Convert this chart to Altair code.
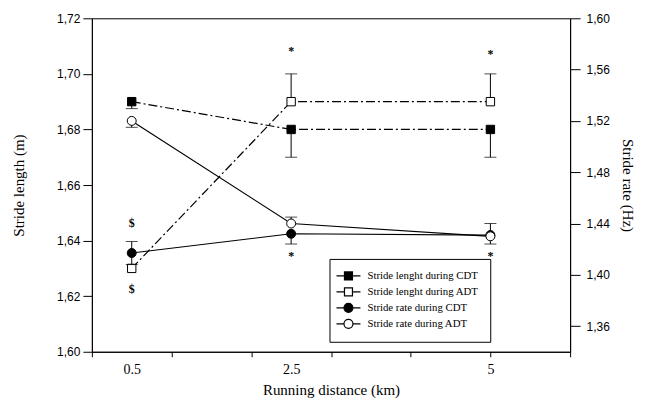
import altair as alt
import pandas as pd

# ---------------- data ----------------
distance = [0.5, 2.5, 5]
x_labels = ["0.5", "2.5", "5"]
x_ticks = [0, 1, 2, 3, 4, 5, 6]
series_names = ["Stride lenght during CDT", "Stride lenght during ADT",
                "Stride rate during CDT", "Stride rate during ADT"]

length_cdt = [1.690, 1.680, 1.680]
length_adt = [1.630, 1.690, 1.690]
rate_cdt = [1.417, 1.432, 1.431]
rate_adt = [1.520, 1.440, 1.430]

length_cdt_lo = [1.6875, 1.670, 1.670]
length_cdt_hi = [1.690, 1.680, 1.680]
length_adt_lo = [1.630, 1.690, 1.690]
length_adt_hi = [1.630, 1.700, 1.700]
rate_cdt_lo = [1.408, 1.424, 1.424]
rate_cdt_hi = [1.426, 1.432, 1.431]
rate_adt_lo = [1.515, 1.440, 1.430]
rate_adt_hi = [1.520, 1.445, 1.440]

annot_x = [2.5, 5, 2.5, 5, 0.5, 0.5]
annot_y = [1.7082, 1.7071, 1.6345, 1.6345, 1.6464, 1.6226]
annot_text = ["*", "*", "*", "*", "$", "$"]

left_ticks = [1.60, 1.62, 1.64, 1.66, 1.68, 1.70, 1.72]
right_ticks = [1.36, 1.40, 1.44, 1.48, 1.52, 1.56, 1.60]

# ---------------- tables ----------------
rows = []
for name, grp, vals, lo, hi in [
    (series_names[0], "length", length_cdt, length_cdt_lo, length_cdt_hi),
    (series_names[1], "length", length_adt, length_adt_lo, length_adt_hi),
    (series_names[2], "rate", rate_cdt, rate_cdt_lo, rate_cdt_hi),
    (series_names[3], "rate", rate_adt, rate_adt_lo, rate_adt_hi),
]:
    for d, v, l, h in zip(distance, vals, lo, hi):
        rows.append({"series": name, "group": grp, "distance": d,
                     "value": v, "lo": l, "hi": h})
df = pd.DataFrame(rows)

caps = []
for r in rows:
    if r["lo"] < r["value"]:
        caps.append({"series": r["series"], "group": r["group"],
                     "distance": r["distance"], "cap": r["lo"]})
    if r["hi"] > r["value"]:
        caps.append({"series": r["series"], "group": r["group"],
                     "distance": r["distance"], "cap": r["hi"]})
caps_df = pd.DataFrame(caps)

annot_df = pd.DataFrame({"distance": annot_x, "value": annot_y, "label": annot_text})

len_df = df[df.group == "length"]
rate_df = df[df.group == "rate"]
len_caps = caps_df[caps_df.group == "length"]
rate_caps = caps_df[caps_df.group == "rate"]

# ---------------- axes / scales ----------------
SERIF = "Liberation Serif"
SANS = "Liberation Sans"

tick_values = sorted(set(x_ticks) | set(distance))
label_expr = " : ".join(
    [f"datum.value == {d} ? '{l}'" for d, l in zip(distance, x_labels)]) + " : ''"
tick_test = "indexof([" + ",".join(str(t) for t in x_ticks) + "], datum.value) < 0"

x_axis = alt.Axis(
    title="Running distance (km)", values=tick_values, labelExpr=label_expr,
    tickOpacity={"condition": {"test": tick_test, "value": 0}, "value": 1},
    tickSize=5, labelPadding=6, titlePadding=6, labelFont=SERIF, labelFontSize=14,
    titleFont=SERIF, titleFontSize=15, titleFontWeight="normal", labelFlush=False,
    labelOverlap=False, grid=False, domainColor="black", tickColor="black",
    labelColor="black", titleColor="black")
X = alt.X("distance:Q", scale=alt.Scale(domain=[0, 6], nice=False, zero=False), axis=x_axis)

comma_expr = "replace(format(datum.value, '.2f'), '.', ',')"
yl_axis = alt.Axis(
    title="Stride length (m)", values=left_ticks, labelExpr=comma_expr, orient="left",
    tickSize=9, labelPadding=3, titlePadding=30, labelFont=SANS, labelFontSize=12,
    titleFont=SERIF, titleFontSize=15, titleFontWeight="normal", grid=False,
    domainColor="black", tickColor="black", labelColor="black", titleColor="black")
yr_axis = alt.Axis(
    title="Stride rate (Hz)", values=right_ticks, labelExpr=comma_expr, orient="right",
    tickSize=10, labelPadding=6, titlePadding=10, labelFont=SANS, labelFontSize=12,
    titleFont=SERIF, titleFontSize=15, titleFontWeight="normal", grid=False,
    domainColor="black", tickColor="black", labelColor="black", titleColor="black")
yl_scale = alt.Scale(domain=[1.60, 1.72], nice=False, zero=False)
yr_scale = alt.Scale(domain=[1.34, 1.60], nice=False, zero=False)

fill_scale = alt.Scale(domain=series_names, range=["black", "white", "black", "white"])
stroke_scale = alt.Scale(domain=series_names, range=["black", "black", "black", "black"])
sq_path = "M-2.4,0H-0.8M0.8,0H2.4M-0.8,-0.8H0.8V0.8H-0.8Z"
ci_path = "M-2.4,0H-0.9M0.9,0H2.4M0.9,0A0.9,0.9 0 1,1 -0.9,0A0.9,0.9 0 1,1 0.9,0Z"
shape_scale = alt.Scale(domain=series_names, range=[sq_path, sq_path, ci_path, ci_path])

leg = alt.Legend(
    orient="none", legendX=238, legendY=241, title=None, padding=11,
    fillColor="white", strokeColor="black", symbolSize=100, symbolStrokeWidth=1.2,
    symbolStrokeColor="black", symbolOpacity=1, symbolOffset=2, labelOffset=13,
    labelFont=SERIF, labelFontSize=10.8, labelColor="black", rowPadding=2, labelLimit=300)

# ---------------- length group ----------------
YL = alt.Y("value:Q", scale=yl_scale, axis=yl_axis)
len_line = alt.Chart(len_df).mark_line(color="black", strokeWidth=1.2, strokeDash=[9, 3, 2, 3]).encode(
    x=X, y=YL, detail="series:N")
len_err = alt.Chart(len_df).mark_rule(color="black", strokeWidth=1).encode(
    x=X, y=alt.Y("lo:Q", scale=yl_scale, axis=yl_axis), y2="hi:Q")
len_cap = alt.Chart(len_caps).mark_tick(color="black", size=12, thickness=1, orient="horizontal").encode(
    x=X, y=alt.Y("cap:Q", scale=yl_scale, axis=yl_axis))
len_pts = alt.Chart(len_df).mark_point(shape="square", size=70, stroke="black", strokeWidth=1,
                                       filled=True, opacity=1).encode(
    x=X, y=YL, fill=alt.Fill("series:N", scale=fill_scale, legend=leg))
len_txt = alt.Chart(annot_df).mark_text(font=SERIF, fontSize=12, fontWeight="bold", color="black",
                                        baseline="middle").encode(
    x=X, y=YL, text="label:N")
legend_layer = alt.Chart(df).transform_filter("false").mark_point(
    stroke="black", strokeWidth=1.2, filled=True, opacity=1).encode(
    x=X, y=YL,
    shape=alt.Shape("series:N", scale=shape_scale, legend=leg),
    fill=alt.Fill("series:N", scale=fill_scale, legend=leg),
    stroke=alt.Stroke("series:N", scale=stroke_scale, legend=leg))
length_group = alt.layer(len_line, len_err, len_cap, len_pts, len_txt, legend_layer)

# ---------------- rate group ----------------
YR = alt.Y("value:Q", scale=yr_scale, axis=yr_axis)
rate_line = alt.Chart(rate_df).mark_line(color="black", strokeWidth=1.2).encode(
    x=X, y=YR, detail="series:N")
rate_err = alt.Chart(rate_df).mark_rule(color="black", strokeWidth=1).encode(
    x=X, y=alt.Y("lo:Q", scale=yr_scale, axis=yr_axis), y2="hi:Q")
rate_cap = alt.Chart(rate_caps).mark_tick(color="black", size=12, thickness=1, orient="horizontal").encode(
    x=X, y=alt.Y("cap:Q", scale=yr_scale, axis=yr_axis))
rate_pts = alt.Chart(rate_df).mark_point(shape="circle", size=80, stroke="black", strokeWidth=1,
                                         filled=True, opacity=1).encode(
    x=X, y=YR, fill=alt.Fill("series:N", scale=fill_scale, legend=leg))
rate_group = alt.layer(rate_line, rate_err, rate_cap, rate_pts)

chart = alt.layer(length_group, rate_group).resolve_scale(y="independent").properties(
    width=479, height=334,
    padding={"left": 3, "top": 4, "right": 5, "bottom": 0},
    background="white",
).configure_view(stroke="black", strokeWidth=1)

chart.save("out.html", embed_options={"renderer": "svg", "actions": False})
